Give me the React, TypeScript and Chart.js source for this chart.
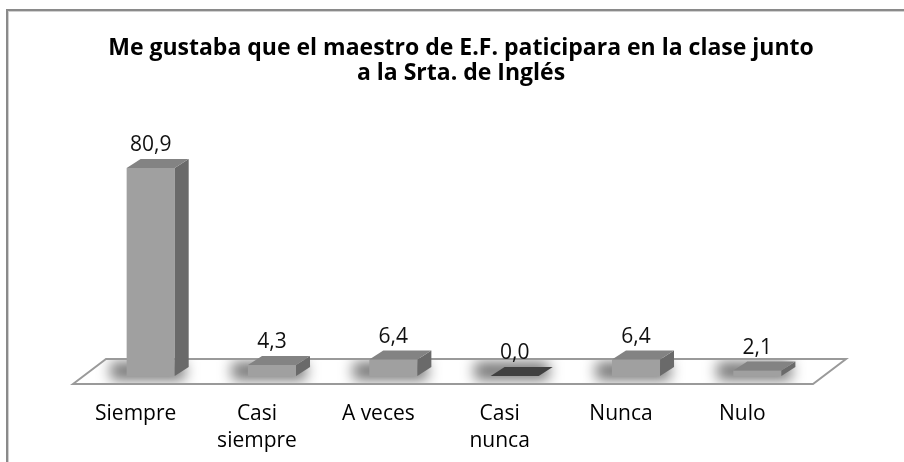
import React, { useEffect, useRef } from 'react';
import { Chart, registerables } from 'chart.js';

Chart.register(...registerables);

const titleLines = [
  'Me gustaba que el maestro de E.F. paticipara en la clase junto',
  'a la Srta. de Inglés',
];
const categories = [['Siempre'], ['Casi', 'siempre'], ['A veces'], ['Casi', 'nunca'], ['Nunca'], ['Nulo']];
const values = [80.9, 4.3, 6.4, 0.0, 6.4, 2.1];

const FRONT = '#a0a0a0';
const SIDE = '#6a6a6a';
const TOP = '#838383';
const TOP_ZERO = '#404040';
const DX = 14;
const DY = 9;

const fmt = (v: number) => v.toFixed(1).replace('.', ',');

const threeD = {
  id: 'threeD',
  beforeDraw(chart: any) {
    const ctx = chart.ctx;
    ctx.save();
    ctx.fillStyle = '#8a8a8a';
    ctx.fillRect(6, 9, 2, chart.height);
    ctx.fillRect(6, 9, chart.width, 2);
    ctx.fillStyle = '#d0d0d0';
    ctx.fillRect(8, 11, 1, chart.height);
    ctx.fillRect(8, 11, chart.width, 1);
    ctx.restore();
  },
  beforeDatasetsDraw(chart: any) {
    const ctx = chart.ctx;
    const { left, right, bottom } = chart.chartArea;
    const fy = bottom + 8;
    const by = bottom - 17;
    const pts = [
      [left - 17, fy],
      [left + 16, by],
      [right + 28, by],
      [right - 5, fy],
    ];
    ctx.save();
    ctx.beginPath();
    ctx.moveTo(pts[0][0], pts[0][1]);
    for (let i = 1; i < pts.length; i++) ctx.lineTo(pts[i][0], pts[i][1]);
    ctx.closePath();
    ctx.fillStyle = '#ffffff';
    ctx.fill();
    ctx.save();
    ctx.clip();
    const meta = chart.getDatasetMeta(0);
    meta.data.forEach((bar: any) => {
      const p = bar.getProps(['x', 'y', 'base', 'width'], true);
      const l = p.x - p.width / 2;
      ctx.save();
      ctx.filter = 'blur(7px)';
      ctx.fillStyle = 'rgba(0,0,0,0.55)';
      ctx.fillRect(l - 16, p.base - DY - 5, p.width + DX + 12, DY + 9);
      ctx.restore();
    });
    ctx.restore();
    ctx.lineWidth = 2;
    ctx.strokeStyle = '#9a9a9a';
    ctx.lineJoin = 'miter';
    ctx.stroke();
    ctx.restore();
  },
  afterDatasetsDraw(chart: any) {
    const ctx = chart.ctx;
    const meta = chart.getDatasetMeta(0);
    const data = chart.data.datasets[0].data as number[];
    ctx.save();
    meta.data.forEach((bar: any, i: number) => {
      const p = bar.getProps(['x', 'y', 'base', 'width'], true);
      const l = p.x - p.width / 2;
      const r = p.x + p.width / 2;
      const top = Math.min(p.y, p.base);
      if (p.base - top > 0.5) {
        ctx.beginPath();
        ctx.moveTo(r, top);
        ctx.lineTo(r + DX, top - DY);
        ctx.lineTo(r + DX, p.base - DY);
        ctx.lineTo(r, p.base);
        ctx.closePath();
        ctx.fillStyle = SIDE;
        ctx.fill();
      }
      ctx.beginPath();
      ctx.moveTo(l, top);
      ctx.lineTo(l + DX, top - DY);
      ctx.lineTo(r + DX, top - DY);
      ctx.lineTo(r, top);
      ctx.closePath();
      ctx.fillStyle = data[i] === 0 ? TOP_ZERO : TOP;
      ctx.fill();
      ctx.fillStyle = '#111111';
      ctx.font = '21px "Open Sans"';
      ctx.textAlign = 'center';
      ctx.textBaseline = 'middle';
      ctx.fillText(fmt(data[i]), p.x, top - 23);
    });
    ctx.restore();
  },
};

export default function App() {
  const ref = useRef<HTMLCanvasElement>(null);
  useEffect(() => {
    const chart = new Chart(ref.current as HTMLCanvasElement, {
      type: 'bar',
      data: {
        labels: categories,
        datasets: [
          {
            data: values,
            backgroundColor: FRONT,
            borderWidth: 0,
            barPercentage: 0.396,
            categoryPercentage: 1,
          },
        ],
      },
      options: {
        responsive: false,
        animation: false,
        devicePixelRatio: 1,
        layout: { padding: { left: 18, right: 0, top: 0, bottom: 5.5 } },
        plugins: {
          legend: { display: false },
          tooltip: { enabled: false },
          title: {
            display: true,
            text: titleLines,
            color: '#000000',
            font: { family: 'Open Sans', size: 23, weight: 'bold', lineHeight: 25 / 23 },
            padding: { top: 35.5, bottom: 33.5 },
          },
        },
        scales: {
          x: {
            grid: { display: false, drawTicks: false },
            border: { display: false },
            ticks: {
              color: '#000000',
              font: { family: 'Open Sans', size: 21, lineHeight: 27 / 21 },
              padding: 24.5,
              labelOffset: -15,
              maxRotation: 0,
              autoSkip: false,
            },
            afterFit: (s: any) => {
              s.height = 80.5;
            },
          },
          y: {
            display: true,
            min: 0,
            max: 100,
            grid: { display: false },
            border: { display: false },
            ticks: { display: false },
            afterFit: (s: any) => {
              s.width = 72;
            },
          },
          y2: {
            type: 'linear',
            position: 'right',
            display: true,
            grid: { display: false },
            border: { display: false },
            ticks: { display: false },
            afterFit: (s: any) => {
              s.width = 86;
            },
          },
        },
      },
      plugins: [threeD],
    } as any);
    return () => chart.destroy();
  }, []);
  return (
    <div style={{ position: 'absolute', left: 0, top: 0, width: 904, height: 462, background: '#ffffff' }}>
      <canvas ref={ref} width={904} height={462} style={{ display: 'block' }} />
    </div>
  );
}
